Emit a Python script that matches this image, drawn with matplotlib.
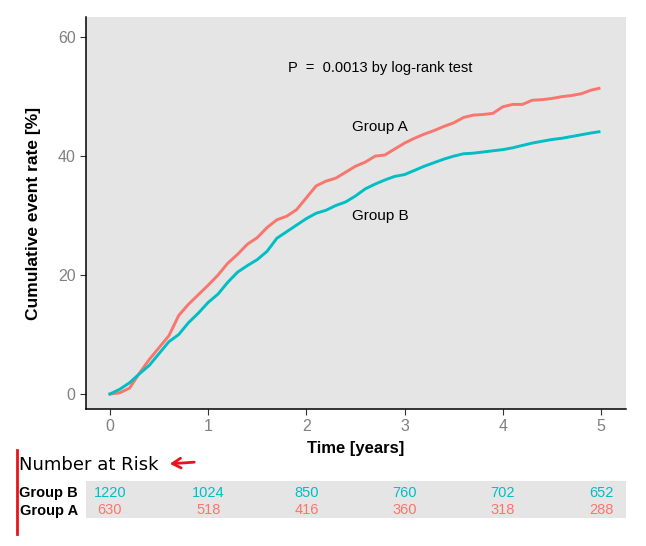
import matplotlib
matplotlib.use("Agg")
import matplotlib.pyplot as plt
from matplotlib.patches import Rectangle, FancyArrowPatch

plt.rcParams['font.family'] = ['Liberation Sans', 'DejaVu Sans']

times = [0.0, 0.1, 0.2, 0.3, 0.4, 0.5, 0.6, 0.7, 0.8, 0.9,
         1.0, 1.1, 1.2, 1.3, 1.4, 1.5, 1.6, 1.7, 1.8, 1.9,
         2.0, 2.1, 2.2, 2.3, 2.4, 2.5, 2.6, 2.7, 2.8, 2.9,
         3.0, 3.1, 3.2, 3.3, 3.4, 3.5, 3.6, 3.7, 3.8, 3.9,
         4.0, 4.1, 4.2, 4.3, 4.4, 4.5, 4.6, 4.7, 4.8, 4.9, 4.98]
group_a = [0, 0.2, 1.0, 3.5, 5.8, 7.8, 9.8, 13.2, 15.1, 16.7,
           18.3, 20.0, 22.0, 23.5, 25.2, 26.3, 28.0, 29.3, 29.9, 31.0,
           33.0, 35.0, 35.8, 36.3, 37.3, 38.3, 39.0, 40.0, 40.2, 41.2,
           42.2, 43.0, 43.7, 44.3, 45.0, 45.6, 46.5, 46.9, 47.0, 47.2,
           48.3, 48.7, 48.7, 49.4, 49.5, 49.7, 50.0, 50.2, 50.5, 51.1, 51.4]
group_b = [0, 0.8, 1.9, 3.4, 4.8, 6.8, 8.8, 10.0, 12.0, 13.6,
           15.4, 16.8, 18.8, 20.5, 21.6, 22.6, 24.0, 26.2, 27.3, 28.4,
           29.5, 30.4, 30.9, 31.7, 32.3, 33.3, 34.5, 35.3, 36.0, 36.6,
           36.9, 37.6, 38.3, 38.9, 39.5, 40.0, 40.4, 40.5, 40.7, 40.9,
           41.1, 41.4, 41.8, 42.2, 42.5, 42.8, 43.0, 43.3, 43.6, 43.9, 44.1]

risk_times = [0, 1, 2, 3, 4, 5]
risk_b = [1220, 1024, 850, 760, 702, 652]
risk_a = [630, 518, 416, 360, 318, 288]

col_a = '#F8766D'
col_b = '#00BFC4'
W, H = 646, 546

fig = plt.figure(figsize=(W / 100, H / 100), dpi=100)
ax = fig.add_axes([86 / W, 1 - 409 / H, (626 - 86) / W, (409 - 17) / H])
ax.set_facecolor('#E5E5E5')
xlim = (-0.244, 5.255)
ax.set_xlim(*xlim)
ax.set_ylim(-2.52, 63.4)

ax.plot(times, group_a, color=col_a, lw=2.1, solid_joinstyle='miter')
ax.plot(times, group_b, color=col_b, lw=2.1, solid_joinstyle='miter')

for s in ['top', 'right']:
    ax.spines[s].set_visible(False)
for s in ['left', 'bottom']:
    ax.spines[s].set_color('black')
    ax.spines[s].set_linewidth(1.1)

ax.set_xticks([0, 1, 2, 3, 4, 5])
ax.set_yticks([0, 20, 40, 60])
ax.tick_params(axis='both', colors='#333333', labelcolor='#808080',
               labelsize=11.5, length=4, width=0.8)
ax.set_xlabel('Time [years]', fontsize=12, fontweight='bold', labelpad=5)
ax.set_ylabel('Cumulative event rate [%]', fontsize=12.5, fontweight='bold', labelpad=12)

ax.text(2.75, 54.8, 'P  =  0.0013 by log-rank test', ha='center', va='center', fontsize=10.5)
ax.text(2.75, 44.9, 'Group A', ha='center', va='center', fontsize=11)
ax.text(2.75, 29.9, 'Group B', ha='center', va='center', fontsize=11)

# risk table
tab = fig.add_axes([86 / W, 1 - 518 / H, (626 - 86) / W, (518 - 481) / H])
tab.set_xlim(*xlim)
tab.set_ylim(0, 2)
tab.axis('off')
tab.add_patch(Rectangle((0, 0), 1, 1, transform=tab.transAxes,
                        facecolor='#E5E5E5', edgecolor='none', zorder=0))
for t, b, a in zip(risk_times, risk_b, risk_a):
    tab.text(t, 1.35, str(b), ha='center', va='center', color=col_b, fontsize=10.5)
    tab.text(t, 0.42, str(a), ha='center', va='center', color=col_a, fontsize=10.5)

fig.text(78 / W, 1 - 493 / H, 'Group B', ha='right', va='center', fontsize=10.5,
         fontweight='bold')
fig.text(78 / W, 1 - 511 / H, 'Group A', ha='right', va='center', fontsize=10.5,
         fontweight='bold')
fig.text(19 / W, 1 - 465 / H, 'Number at Risk', ha='left', va='center', fontsize=13,
         family='DejaVu Sans')

# red hand-drawn marks
fig.add_artist(plt.Line2D([17 / W, 17 / W], [1 - 450 / H, 1 - 534 / H],
                          color='#E8141B', lw=2, transform=fig.transFigure))
fig.add_artist(FancyArrowPatch(
    (197 / W, 1 - 462 / H), (167 / W, 1 - 464 / H), transform=fig.transFigure,
    arrowstyle='->,head_length=6,head_width=3.5', color='#E8141B', lw=2))

fig.savefig('out.png', dpi=100)
